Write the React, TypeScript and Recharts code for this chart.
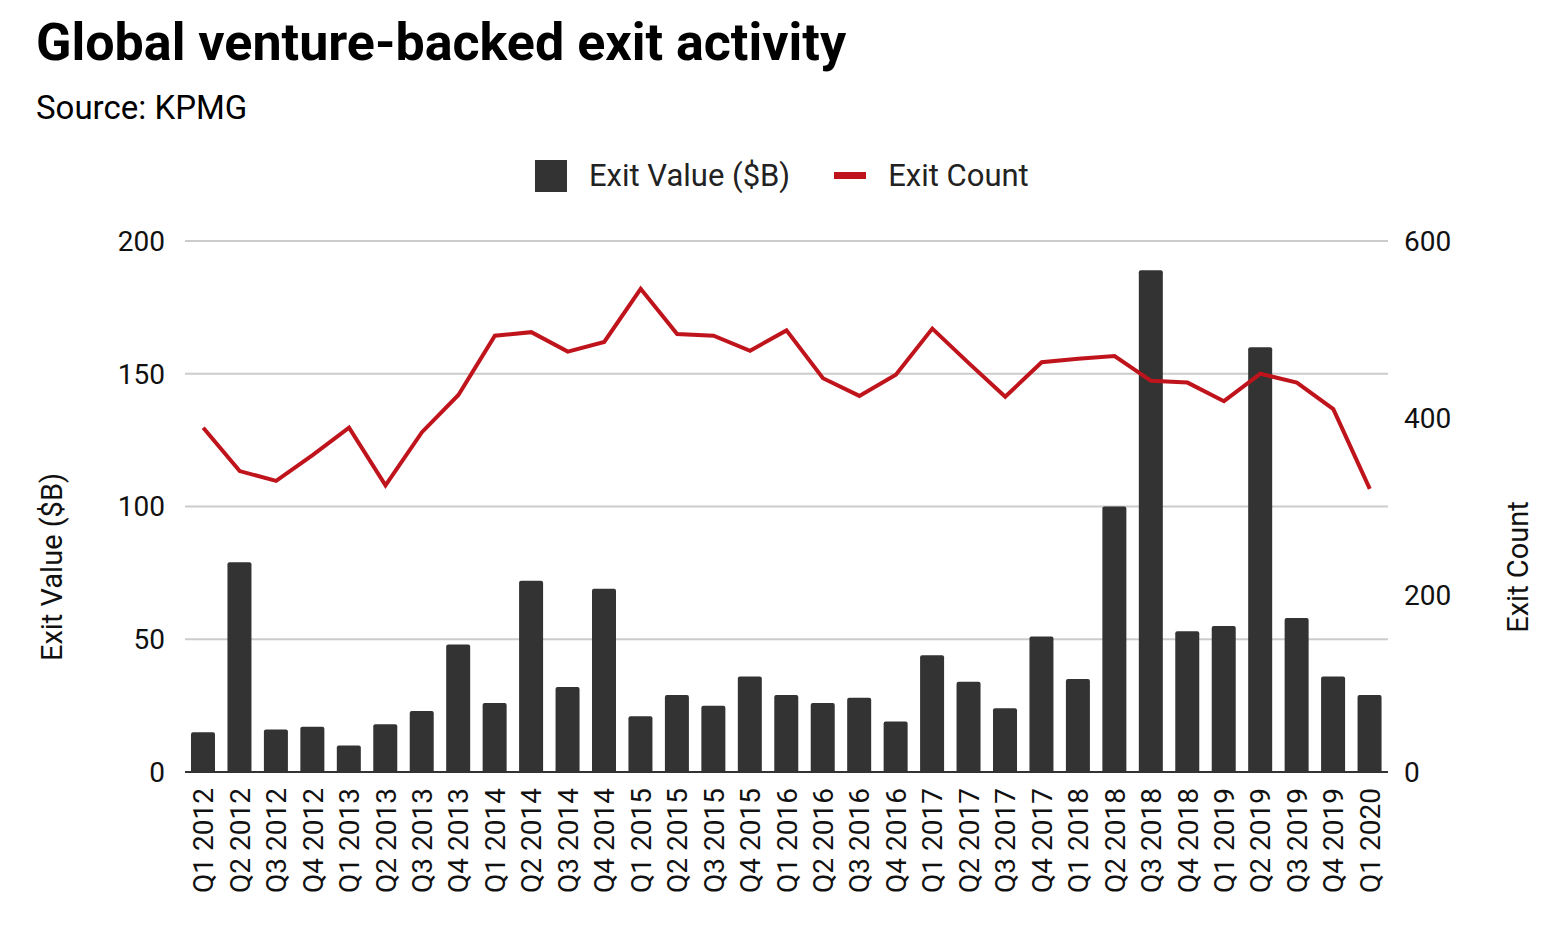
import React from 'react';
import { ComposedChart, Bar, Line, XAxis, YAxis, CartesianGrid } from 'recharts';

const quarters = [
  'Q1 2012', 'Q2 2012', 'Q3 2012', 'Q4 2012', 'Q1 2013', 'Q2 2013', 'Q3 2013', 'Q4 2013',
  'Q1 2014', 'Q2 2014', 'Q3 2014', 'Q4 2014', 'Q1 2015', 'Q2 2015', 'Q3 2015', 'Q4 2015',
  'Q1 2016', 'Q2 2016', 'Q3 2016', 'Q4 2016', 'Q1 2017', 'Q2 2017', 'Q3 2017', 'Q4 2017',
  'Q1 2018', 'Q2 2018', 'Q3 2018', 'Q4 2018', 'Q1 2019', 'Q2 2019', 'Q3 2019', 'Q4 2019',
  'Q1 2020',
];
const exitValue = [
  15, 79, 16, 17, 10, 18, 23, 48, 26, 72, 32, 69, 21, 29, 25, 36, 29, 26, 28, 19, 44, 34, 24,
  51, 35, 100, 189, 53, 55, 160, 58, 36, 29,
];
const exitCount = [
  389, 340, 329, 358, 389, 324, 384, 426, 493, 497, 475, 486, 546, 495, 493, 476, 499, 445,
  425, 449, 501, 462, 424, 463, 467, 470, 442, 440, 419, 450, 440, 410, 320,
];
const leftTicks = [0, 50, 100, 150, 200];
const rightTicks = [0, 200, 400, 600];

const data = quarters.map((q, i) => ({ q, value: exitValue[i], count: exitCount[i] }));

const font = 'Roboto, sans-serif';
const tickStyle = { fontSize: 28, fill: '#111', fontFamily: font };

const XTick = (props: any) => {
  const { x, y, payload } = props;
  return (
    <text x={x} y={y + 8} transform={`rotate(-90, ${x}, ${y + 8})`} textAnchor="end" dy={10}
      style={tickStyle}>
      {payload.value}
    </text>
  );
};

export default function App() {
  return (
    <div style={{ position: 'absolute', left: 0, top: 0, width: 1568, height: 934, background: '#fff', fontFamily: font }}>
      <div style={{ position: 'absolute', left: 36, top: 12, fontSize: 52, fontWeight: 700, color: '#000' }}>
        Global venture-backed exit activity
      </div>
      <div style={{ position: 'absolute', left: 36, top: 88, fontSize: 33, color: '#000' }}>Source: KPMG</div>
      <div style={{ position: 'absolute', left: 535, top: 157, fontSize: 31, color: '#222', display: 'flex', alignItems: 'center' }}>
        <span style={{ width: 32, height: 32, background: '#333', display: 'inline-block', marginRight: 22 }} />
        Exit Value ($B)
        <span style={{ width: 32, height: 7, background: '#c0141c', display: 'inline-block', marginLeft: 44, marginRight: 22 }} />
        Exit Count
      </div>
      <div style={{ position: 'absolute', left: 52, top: 567, transform: 'translate(-50%,-50%) rotate(-90deg)', fontSize: 29, whiteSpace: 'nowrap', color: '#111' }}>
        Exit Value ($B)
      </div>
      <div style={{ position: 'absolute', left: 1518, top: 567, transform: 'translate(-50%,-50%) rotate(-90deg)', fontSize: 29, whiteSpace: 'nowrap', color: '#111' }}>
        Exit Count
      </div>
      <div style={{ position: 'absolute', left: 0, top: 0 }}>
        <ComposedChart width={1568} height={934} data={data}
          margin={{ top: 241, left: 105, right: 100, bottom: 22 }}>
          <CartesianGrid yAxisId="left" vertical={false} stroke="#ccc" strokeWidth={2} />
          <XAxis dataKey="q" interval={0} height={140} tick={<XTick />} tickLine={false}
            axisLine={{ stroke: '#333', strokeWidth: 2 }} />
          <YAxis yAxisId="left" domain={[0, 200]} ticks={leftTicks} width={80} axisLine={false}
            tickLine={false} tick={tickStyle} tickMargin={14} />
          <YAxis yAxisId="right" orientation="right" domain={[0, 600]} ticks={rightTicks} width={80}
            axisLine={false} tickLine={false} tick={tickStyle} tickMargin={10} />
          <Bar yAxisId="left" dataKey="value" fill="#333" barSize={24} radius={[2, 2, 0, 0]} isAnimationActive={false} />
          <Line yAxisId="right" dataKey="count" stroke="#c0141c" strokeWidth={4} dot={false}
            type="linear" isAnimationActive={false} />
        </ComposedChart>
      </div>
    </div>
  );
}
